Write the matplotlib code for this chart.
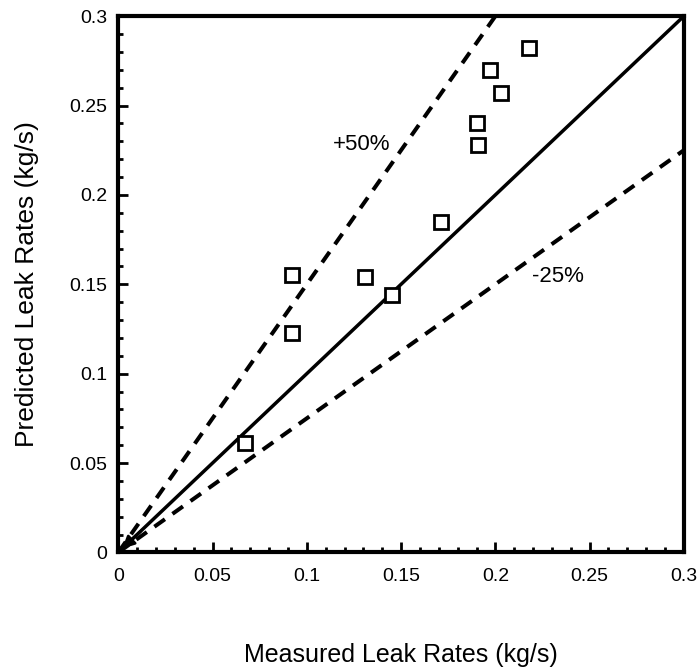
import matplotlib
matplotlib.use("Agg")
import matplotlib.pyplot as plt
from matplotlib.ticker import MultipleLocator, FixedLocator

plt.rcParams['font.family'] = ['Liberation Sans', 'DejaVu Sans']

measured = [0.218, 0.197, 0.203, 0.190, 0.191, 0.171, 0.092, 0.131, 0.145, 0.092, 0.067]
predicted = [0.282, 0.270, 0.257, 0.240, 0.228, 0.185, 0.155, 0.154, 0.144, 0.123, 0.061]

ticks = [0, 0.05, 0.1, 0.15, 0.2, 0.25, 0.3]
tick_labels = ["0", "0.05", "0.1", "0.15", "0.2", "0.25", "0.3"]
upper_factor = 1.5
lower_factor = 0.75
upper_label = "+50%"
lower_label = "-25%"
xlabel = "Measured Leak Rates (kg/s)"
ylabel = "Predicted Leak Rates (kg/s)"

fig = plt.figure(figsize=(7, 6.72), dpi=100)
ax = fig.add_axes([0.169, 0.178, 0.808, 0.798])

lim = 0.3
dash = (0, (3.2, 2.3))
# 1:1 line
ax.plot([0, lim], [0, lim], color='black', lw=2.5, solid_capstyle='butt')
# +50 % line
ax.plot([0, lim / upper_factor], [0, lim], color='black', lw=2.9, ls=dash)
# -25 % line
ax.plot([0, lim], [0, lim * lower_factor], color='black', lw=2.9, ls=dash)

ax.plot(measured, predicted, ls='none', marker='s', ms=10, mfc='white',
        mec='black', mew=2.0, zorder=5)

ax.annotate("", xy=(0.001, 0.001), xytext=(0.013, 0.013),
            arrowprops=dict(arrowstyle='-|>', color='black', lw=2,
                            mutation_scale=18))

ax.text(0.129, 0.228, upper_label, fontsize=16, ha='center', va='center')
ax.text(0.233, 0.1545, lower_label, fontsize=16, ha='center', va='center')

ax.set_xlim(0, lim)
ax.set_ylim(0, lim)
ax.xaxis.set_major_locator(FixedLocator(ticks))
ax.yaxis.set_major_locator(FixedLocator(ticks))
ax.set_xticklabels(tick_labels)
ax.set_yticklabels(tick_labels)
ax.xaxis.set_minor_locator(MultipleLocator(0.01))
ax.yaxis.set_minor_locator(MultipleLocator(0.01))
ax.tick_params(which='both', direction='in', top=False, right=False,
               labelsize=14, width=2.0)
ax.tick_params(which='major', length=7.5)
ax.tick_params(which='minor', length=3.5)
ax.tick_params(axis='x', which='major', pad=11)
ax.tick_params(axis='y', which='major', pad=8)

for s in ax.spines.values():
    s.set_linewidth(3.0)

ax.set_xlabel(xlabel, fontsize=18, labelpad=42)
ax.set_ylabel(ylabel, fontsize=19, labelpad=22)

fig.savefig("out.png", dpi=100)
